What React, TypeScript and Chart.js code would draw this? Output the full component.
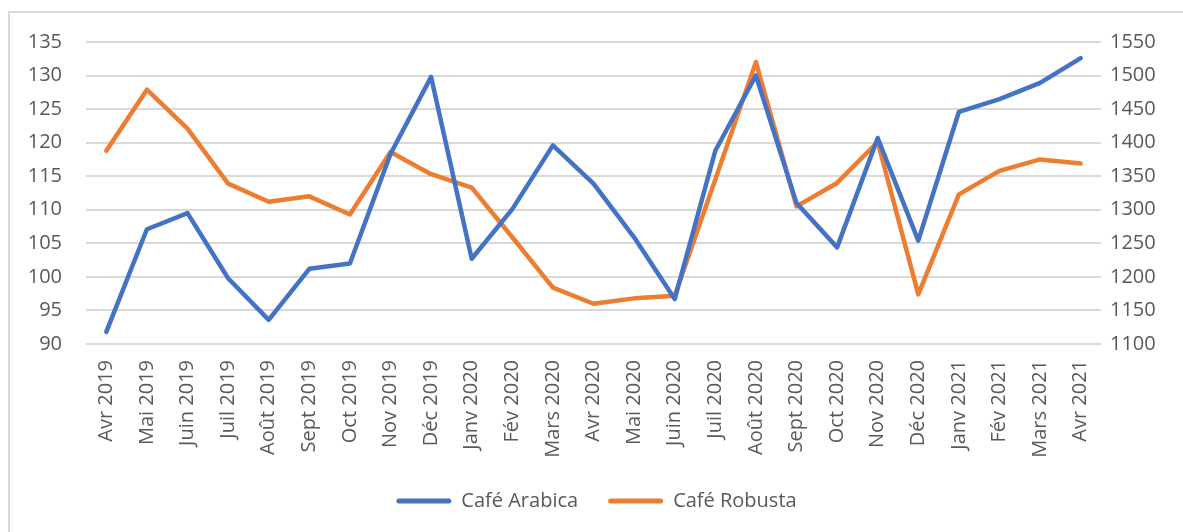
import React, { useEffect, useRef } from "react";
import { Chart, registerables } from "chart.js";

Chart.register(...registerables);

const categories = [
  "Avr 2019", "Mai 2019", "Juin 2019", "Juil 2019", "Août 2019", "Sept 2019", "Oct 2019",
  "Nov 2019", "Déc 2019", "Janv 2020", "Fév 2020", "Mars 2020", "Avr 2020", "Mai 2020",
  "Juin 2020", "Juil 2020", "Août 2020", "Sept 2020", "Oct 2020", "Nov 2020", "Déc 2020",
  "Janv 2021", "Fév 2021", "Mars 2021", "Avr 2021",
];

const arabica = [
  91.8, 107.1, 109.5, 99.8, 93.6, 101.2, 102.0, 118.3, 129.8, 102.7, 110.1, 119.6, 113.9,
  105.9, 96.7, 118.8, 130.0, 111.0, 104.4, 120.7, 105.4, 124.6, 126.5, 128.9, 132.6,
];

const robusta = [
  1388, 1479, 1421, 1339, 1312, 1320, 1293, 1386, 1353, 1333, 1259, 1184, 1160, 1168,
  1172, 1345, 1520, 1305, 1340, 1401, 1174, 1323, 1358, 1375, 1369,
];

const leftTicks = { min: 90, max: 135, step: 5 };
const rightTicks = { min: 1100, max: 1550, step: 50 };

const BLUE = "#4472C4";
const ORANGE = "#ED7D31";
const TEXT = "#595959";
const GRID = "#D9D9D9";

export default function App() {
  const ref = useRef<HTMLCanvasElement | null>(null);

  useEffect(() => {
    if (!ref.current) return;
    const chart = new Chart(ref.current, {
      type: "line",
      data: {
        labels: categories,
        datasets: [
          {
            label: "Café Arabica",
            data: arabica,
            borderColor: BLUE,
            backgroundColor: BLUE,
            borderWidth: 4.5,
            pointRadius: 0,
            tension: 0,
            borderCapStyle: "round",
            borderJoinStyle: "round",
            yAxisID: "y",
          },
          {
            label: "Café Robusta",
            data: robusta,
            borderColor: ORANGE,
            backgroundColor: ORANGE,
            borderWidth: 4.5,
            pointRadius: 0,
            tension: 0,
            borderCapStyle: "round",
            borderJoinStyle: "round",
            yAxisID: "y1",
          },
        ],
      },
      options: {
        responsive: false,
        animation: false,
        layout: { padding: { top: 29, bottom: 11, left: 0, right: 0 } },
        plugins: {
          tooltip: { enabled: false },
          legend: {
            position: "bottom",
            labels: {
              color: TEXT,
              font: { family: "'Open Sans', sans-serif", size: 20 },
              boxWidth: 55,
              boxHeight: 5,
              padding: 30,
              useBorderRadius: true,
              borderRadius: 2.5,
              generateLabels: (c: any) =>
                c.data.datasets.map((d: any, i: number) => ({
                  text: d.label,
                  fillStyle: d.borderColor,
                  strokeStyle: d.borderColor,
                  lineWidth: 0,
                  fontColor: TEXT,
                  datasetIndex: i,
                  hidden: false,
                  borderRadius: 2.5,
                })),
            },
          },
        },
        scales: {
          x: {
            offset: true,
            grid: { display: false, drawTicks: false },
            border: { display: false },
            ticks: {
              autoSkip: false,
              minRotation: 90,
              maxRotation: 90,
              padding: 16,
              color: TEXT,
              font: { family: "'Open Sans', sans-serif", size: 20 },
            },
            afterFit: (s: any) => {
              s.height = 117;
            },
          },
          y: {
            position: "left",
            min: leftTicks.min,
            max: leftTicks.max,
            grid: { color: GRID, lineWidth: 2, drawTicks: false },
            border: { display: false },
            ticks: {
              stepSize: leftTicks.step,
              padding: 24,
              color: TEXT,
              font: { family: "'Open Sans', sans-serif", size: 20 },
              callback: (v: any) => String(v),
            },
            afterFit: (s: any) => {
              s.width = 76;
              s.paddingTop = 0;
              s.paddingBottom = 0;
            },
          },
          y1: {
            position: "right",
            min: rightTicks.min,
            max: rightTicks.max,
            grid: { drawOnChartArea: false, drawTicks: false },
            border: { display: false },
            ticks: {
              stepSize: rightTicks.step,
              padding: 9,
              color: TEXT,
              font: { family: "'Open Sans', sans-serif", size: 20 },
              callback: (v: any) => String(v),
            },
            afterFit: (s: any) => {
              s.width = 82;
              s.paddingTop = 0;
              s.paddingBottom = 0;
            },
          },
        },
      },
    });
    return () => chart.destroy();
  }, []);

  return (
    <div
      style={{
        position: "absolute",
        left: 8,
        top: 11,
        width: 1175,
        height: 521,
        borderLeft: "2px solid #D9D9D9",
        borderTop: "2px solid #D9D9D9",
        background: "#fff",
      }}
    >
      <canvas ref={ref} width={1173} height={519} style={{ display: "block" }} />
    </div>
  );
}
